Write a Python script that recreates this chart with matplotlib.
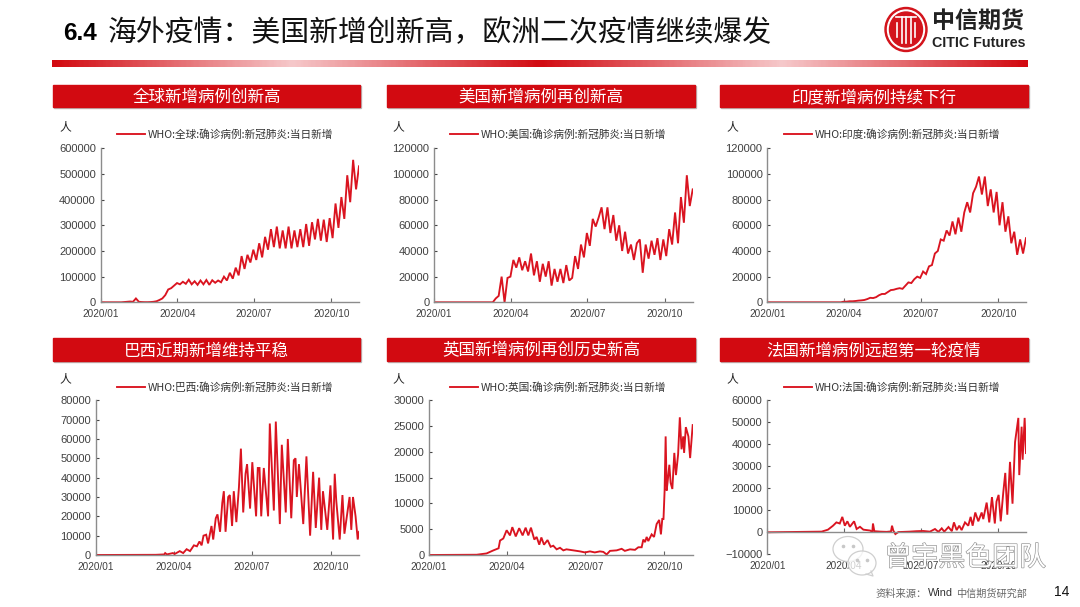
import datetime as dt

import matplotlib
matplotlib.use("Agg")
import matplotlib.dates as mdates
import matplotlib.patheffects as pe
import matplotlib.pyplot as plt
import numpy as np
from matplotlib.colors import LinearSegmentedColormap
from matplotlib.patches import Ellipse, Rectangle

W, H = 1080, 607
RED = "#D20A11"
LINE = "#DA1420"
CJK = ["Noto Sans CJK SC", "DejaVu Sans"]
LATIN = "Liberation Sans"

plt.rcParams["font.family"] = CJK

# daily new cases, evenly spaced from 2020/01/01 to 2020/11/03
world_cases = [0, 0, 0, 0, 0, 0, 0, 0, 1000, 2000, 3000, 2000, 15000, 2000, 1000, 500, 500, 1000, 2000, 4000,
               9000, 15000, 28000, 50000, 55000, 65000, 75000, 70000, 80000, 72000, 88000, 70000, 82000, 68000,
               85000, 70000, 87000, 68000, 86000, 76000, 85000, 78000, 100000, 85000, 115000, 92000, 135000,
               105000, 180000, 130000, 185000, 155000, 205000, 165000, 230000, 175000, 255000, 205000, 285000,
               215000, 295000, 210000, 280000, 210000, 295000, 210000, 280000, 215000, 285000, 215000, 305000,
               220000, 312000, 245000, 325000, 240000, 322000, 235000, 328000, 250000, 385000, 290000, 410000,
               325000, 495000, 390000, 555000, 440000, 530000]

us_cases = [0, 0, 0, 0, 0, 0, 0, 0, 0, 0, 0, 0, 0, 0, 0, 0, 0, 0, 0, 0, 0, 3000, 5000, 20000, 0, 19000, 20000,
            33000, 27000, 35000, 25000, 32000, 24000, 38000, 21000, 32000, 16000, 30000, 20000, 32000, 13000,
            26000, 16000, 26000, 15000, 29000, 17000, 19000, 36000, 26000, 45000, 35000, 54000, 44000, 65000,
            59000, 66000, 74000, 57000, 74000, 54000, 68000, 48000, 60000, 40000, 55000, 38000, 45000, 33000,
            46000, 49000, 23000, 45000, 34000, 48000, 37000, 50000, 33000, 49000, 36000, 57000, 45000, 70000,
            46000, 82000, 62000, 99000, 75000, 88000]

india_cases = [0, 0, 0, 0, 0, 0, 0, 0, 0, 0, 0, 0, 0, 0, 0, 0, 0, 0, 0, 0, 0, 0, 0, 0, 0, 0, 500, 500, 800, 800,
               1000, 1300, 1500, 1800, 2500, 3500, 3300, 4000, 5500, 6500, 6500, 8000, 9500, 9800, 10500, 11000,
               10500, 13000, 15500, 15000, 18000, 20000, 19000, 24000, 22000, 28000, 29000, 38000, 40000, 49000,
               48000, 56000, 52000, 63000, 53000, 66000, 55000, 70000, 78000, 70000, 85000, 90000, 98000, 84000,
               98000, 75000, 88000, 70000, 86000, 60000, 78000, 55000, 67000, 46000, 55000, 37000, 49000, 38000,
               50000]

brazil_days = [0, 70, 80, 81, 83, 90, 92, 98, 102, 106, 110, 114.5, 118, 121, 123.5, 125.7, 128.8, 131, 135, 137,
               140, 142, 145, 147.6, 149.4, 151.4, 154.5, 156.4, 159, 161, 164, 167, 169.3, 172, 174.7, 176.5,
               180, 182.6, 187, 189, 191, 193, 196, 201, 203, 207.7, 210, 214.7, 217, 221.6, 224, 228, 231, 233,
               234.5, 237, 242, 245.7, 250, 253.5, 256.6, 260.5, 263, 265, 270, 273.7, 276.8, 278.7, 280.5,
               284.5, 287.7, 290, 296, 298, 300, 303, 305.5, 307]
brazil_cases = [0, 100, 300, 1000, 300, 1000, 500, 2000, 1000, 3000, 2000, 5000, 4500, 7000, 5000, 10000, 10500,
                6000, 15000, 8000, 19000, 21000, 12000, 27000, 33000, 12000, 30000, 31000, 15000, 33000, 17000,
                35000, 55000, 22000, 42000, 47000, 24000, 48000, 20000, 45000, 45000, 20000, 45000, 20000, 68000,
                23000, 69000, 16000, 57000, 22000, 60000, 19000, 49000, 50000, 30000, 47000, 16000, 51000, 10000,
                43000, 14000, 40000, 13000, 33000, 13000, 36000, 8000, 42000, 28000, 8000, 31000, 11000, 30000,
                13000, 30000, 20000, 8000, 12000]

uk_days = [0, 55.5, 67, 75, 81, 82.7, 86.5, 90.4, 94.3, 97, 101, 105, 109, 112.5, 115.6, 118.7, 122.6, 125.3,
           128.4, 130.8, 133.9, 138, 141.6, 144.7, 148.6, 152.5, 156.4, 160, 168, 175.8, 181.6, 187.4, 193, 199,
           203, 206.8, 210.7, 218.5, 224.3, 228, 234, 239.8, 243.7, 247.6, 249.5, 251.5, 253.4, 255.3, 259.2,
           262, 265, 268, 270, 271.6, 273, 274.3, 275.5, 276.7, 278, 279.8, 281.3, 283.3, 285.6, 287.5, 290, 292,
           294, 296, 297, 299, 302, 304, 307]
uk_cases = [0, 50, 300, 900, 1300, 2800, 3200, 4800, 3800, 5400, 3600, 5200, 3800, 5300, 3800, 5300, 3000, 3500,
            2000, 3400, 2000, 2900, 1600, 1800, 1100, 1400, 900, 1100, 900, 700, 500, 700, 500, 700, 600, 100, 800,
            900, 1200, 800, 1100, 1000, 1500, 1500, 3000, 2500, 3500, 2700, 4000, 3500, 6000, 6800, 4000, 7000,
            7000, 12500, 23000, 12500, 14500, 17500, 14000, 12800, 19800, 15500, 19500, 26700, 20500, 23000, 19800,
            24800, 23000, 18800, 25200]

france_days = [0, 64.5, 72, 78, 82, 86, 89, 92, 95, 98, 103, 106, 110, 114, 122, 124.6, 125.4, 127, 134, 141.6,
               146.8, 148, 149.5, 152, 155.5, 169, 177, 185, 193, 199, 203, 207, 210, 215, 219, 221.5, 224.7,
               227.8, 230.6, 234.6, 238.5, 241.3, 243.7, 246.8, 250.4, 254.4, 256.3, 260.3, 263.4, 266.6, 270, 272,
               274.5, 277, 280, 282.4, 284.8, 288, 291, 294, 297.9, 299, 301.8, 303, 305.4, 307]
france_cases = [0, 300, 1200, 3000, 4500, 4000, 7000, 3000, 5000, 2500, 5000, 1500, 2500, 1200, 800, 200, 4000,
                500, 300, 200, 400, 3000, 800, -800, 100, 300, 500, 600, 300, 1500, 200, 1800, 300, 2400, 500, 4500,
                1000, 3000, 1000, 4500, 3000, 7000, 3000, 9000, 5000, 9000, 6000, 13500, 4500, 16000, 4000, 14000,
                17000, 5000, 18000, 27000, 8000, 32000, 13000, 41000, 52000, 26000, 48000, 33000, 52000, 36000]

even_days = np.linspace(0, 307, 89)

panel_titles = ["全球新增病例创新高", "美国新增病例再创新高", "印度新增病例持续下行",
                "巴西近期新增维持平稳", "英国新增病例再创历史新高", "法国新增病例远超第一轮疫情"]
legend_labels = ["WHO:全球:确诊病例:新冠肺炎:当日新增", "WHO:美国:确诊病例:新冠肺炎:当日新增",
                 "WHO:印度:确诊病例:新冠肺炎:当日新增", "WHO:巴西:确诊病例:新冠肺炎:当日新增",
                 "WHO:英国:确诊病例:新冠肺炎:当日新增", "WHO:法国:确诊病例:新冠肺炎:当日新增"]
series_days = [even_days, even_days, even_days, brazil_days, uk_days, france_days]
series_cases = [world_cases, us_cases, india_cases, brazil_cases, uk_cases, france_cases]
y_ticks = [np.arange(0, 600001, 100000), np.arange(0, 120001, 20000), np.arange(0, 120001, 20000),
           np.arange(0, 80001, 10000), np.arange(0, 30001, 5000), np.arange(-10000, 60001, 10000)]
x_ticks = [dt.date(2020, 1, 1), dt.date(2020, 4, 1), dt.date(2020, 7, 1), dt.date(2020, 10, 1)]

# pixel boxes of the slide: left, right, top, bottom
axes_boxes = [(100.7, 359, 148.3, 302.3), (434, 692.7, 148.3, 302.3), (767.3, 1026, 148.3, 302.3),
              (95.7, 359, 400.3, 555), (429, 692.7, 400.3, 555), (767.3, 1026, 400.3, 554.3)]
bar_boxes = [(53, 360, 85, 107), (387, 695, 85, 107), (720, 1028, 85, 107),
             (53, 360, 338, 361), (387, 695, 338, 361), (720, 1028, 338, 361)]
unit_pos = [(65, 127), (398, 127), (732, 127), (65, 379), (398, 379), (732, 379)]
legend_x = [117, 450, 784, 117, 450, 784]
legend_y = [134, 134, 134, 387, 387, 387]


def px_axes(fig, box, **kw):
    l, r, t, b = box
    return fig.add_axes([l / W, 1 - b / H, (r - l) / W, (b - t) / H], **kw)


fig = plt.figure(figsize=(W / 100, H / 100), dpi=100, facecolor="white")

# slide background, in pixels
bg = fig.add_axes([0, 0, 1, 1], zorder=0)
bg.set_xlim(0, W)
bg.set_ylim(H, 0)
bg.axis("off")

bg.text(63, 33, "6.4", family=LATIN, fontweight="bold", fontsize=17.5, color="black", va="center")
bg.text(108, 33.5, "海外疫情：美国新增创新高，欧洲二次疫情继续爆发", fontsize=20.8, color="#111111", va="center")

band_cmap = LinearSegmentedColormap.from_list(
    "band", [(0, RED), (0.245, "#F6C9CB"), (0.5, RED), (0.75, "#F6C9CB"), (1, RED)])
bg.imshow(np.linspace(0, 1, 400).reshape(1, -1), cmap=band_cmap, aspect="auto", extent=(52, 1028, 67.3, 61), zorder=1)
bg.set_xlim(0, W)
bg.set_ylim(H, 0)

# logo
for rx, color in [(21, "#D3141C"), (18.5, "white"), (16.5, "#D3141C")]:
    bg.add_patch(Ellipse((906, 29.5), rx * 2, rx * 2 + 2, color=color, zorder=2))
for dx in (-9, -4.5, 0, 4.5, 9):
    bg.plot([906 + dx, 906 + dx], [17 if abs(dx) < 5 else 23, 43 if abs(dx) < 5 else 37], color="white", lw=1.2, zorder=3)
bg.plot([896, 916], [17, 17], color="white", lw=1.2, zorder=3)
bg.text(932, 21, "中信期货", fontsize=16.6, fontweight="bold", color="#222222", va="center")
bg.text(932, 43, "CITIC Futures", family=LATIN, fontsize=10.3, fontweight="bold", color="#222222", va="center")

for (l, r, t, b), title in zip(bar_boxes, panel_titles):
    bg.add_patch(Rectangle((l + 0.8, t + 0.8), r - l, b - t, color="#BBBBBB", zorder=1))
    bg.add_patch(Rectangle((l, t), r - l, b - t, color=RED, zorder=2))
    bg.text((l + r) / 2, (t + b) / 2 + 1.5, title, color="white", fontsize=11.9, fontweight="medium",
            ha="center", va="center", zorder=3)

for x, y in unit_pos:
    bg.text(x, y, "人", fontsize=8.5, fontweight="medium", color="#222222", ha="center", va="center")

bg.text(876, 593.5, "资料来源：", fontsize=7.4, color="#666666", va="center")
bg.text(928, 593, "Wind", family=LATIN, fontsize=7.8, color="#333333", va="center")
bg.text(956, 593.5, "中信期货研究部", fontsize=7.3, color="#666666", va="center")
bg.text(1054, 592, "14", family=LATIN, fontsize=10, color="#111111", va="center")

# the six charts
for i in range(6):
    ax = px_axes(fig, axes_boxes[i], zorder=2)
    ax.patch.set_alpha(0)
    days = [dt.datetime(2020, 1, 1) + dt.timedelta(days=float(d)) for d in series_days[i]]
    line, = ax.plot(days, series_cases[i], color=LINE, lw=1.35, label=legend_labels[i], solid_joinstyle="miter")

    ax.set_xlim(dt.date(2020, 1, 1), dt.date(2020, 11, 3))
    ax.set_ylim(y_ticks[i][0], y_ticks[i][-1])
    ax.set_yticks(y_ticks[i])
    ax.set_xticks(x_ticks)
    ax.xaxis.set_major_formatter(mdates.DateFormatter("%Y/%m"))

    for side in ("top", "right"):
        ax.spines[side].set_visible(False)
    for side in ("left", "bottom"):
        ax.spines[side].set_color("#8C8C8C")
        ax.spines[side].set_linewidth(1.0)

    x_pad = 5
    if y_ticks[i][0] < 0:
        ax.spines["bottom"].set_position(("data", 0))
        x_pad = 20.5
    ax.tick_params(axis="x", direction="in", length=2.8, width=0.8, color="#666666", pad=x_pad,
                   labelsize=7.2, labelcolor="#404040")
    ax.tick_params(axis="y", direction="in", length=2.2, width=0.8, color="#444444", pad=3.4,
                   labelsize=8, labelcolor="#404040")
    for lab in ax.get_xticklabels() + ax.get_yticklabels():
        lab.set_family(LATIN)

    fig.legend(handles=[line], loc="center left",
               bbox_to_anchor=(legend_x[i] / W, 1 - legend_y[i] / H), frameon=False, fontsize=7.7,
               handlelength=2.6, handletextpad=0.25, borderpad=0, borderaxespad=0, labelcolor="#333333")

# wechat watermark sits on top of the last chart labels
top = fig.add_axes([0, 0, 1, 1], zorder=5)
top.set_xlim(0, W)
top.set_ylim(H, 0)
top.axis("off")
for (cx, cy, rx, ry) in [(848, 549, 15, 12.5), (862, 563, 14, 12)]:
    top.add_patch(Ellipse((cx, cy), rx * 2, ry * 2, facecolor=(1, 1, 1, 0.75), edgecolor="#CFCFCF", lw=0.9))
    top.plot([cx - 5, cx + 5], [cy - 3, cy - 3], ls="none", marker="o", ms=1.6, color="#C8C8C8")
top.plot([866, 873, 871], [574, 576, 571], color="#CFCFCF", lw=0.9)
top.text(965, 558, "曾宇黑色团队", fontsize=19.4, color="white", ha="center", va="center",
         path_effects=[pe.withStroke(linewidth=0.9, foreground="#8F8F8F")])

fig.savefig("out.png", dpi=100)
